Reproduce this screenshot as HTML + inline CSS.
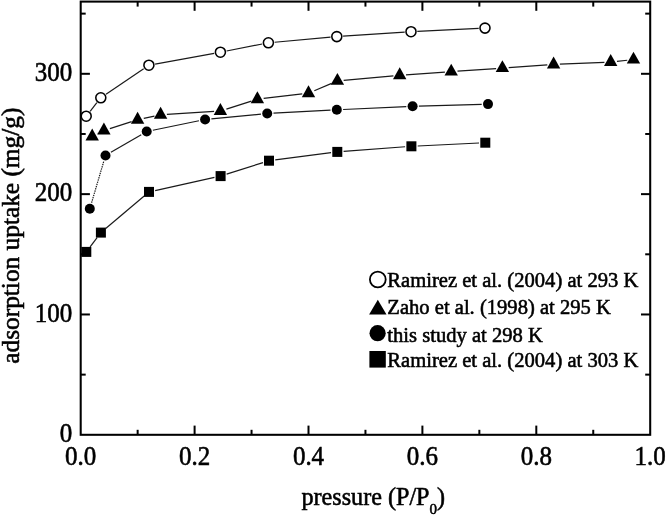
<!DOCTYPE html>
<html><head><meta charset="utf-8"><style>
html,body{margin:0;padding:0;background:#fff;}
body{width:666px;height:515px;overflow:hidden;font-family:"Liberation Serif",serif;}
svg{display:block;will-change:transform;}
</style></head><body>
<svg width="666" height="515" viewBox="0 0 666 515">
<g stroke="#1a1a1a" stroke-width="1.2" fill="none">
<line x1="90.12" y1="111.26" x2="96.88" y2="102.74"/><line x1="106.02" y1="94.27" x2="143.68" y2="68.73"/><line x1="155.10" y1="64.07" x2="214.20" y2="53.33"/><line x1="226.58" y1="50.99" x2="262.22" y2="44.01"/><line x1="274.67" y1="42.23" x2="330.53" y2="37.17"/><line x1="343.09" y1="36.18" x2="404.71" y2="32.12"/><line x1="417.29" y1="31.39" x2="478.71" y2="28.41"/>
<line x1="97.81" y1="133.63" x2="98.29" y2="133.37"/><line x1="109.90" y1="128.58" x2="131.60" y2="121.62"/><line x1="143.76" y1="118.39" x2="154.44" y2="116.11"/><line x1="166.89" y1="114.40" x2="214.11" y2="111.40"/><line x1="226.40" y1="109.09" x2="251.40" y2="101.11"/><line x1="263.66" y1="98.47" x2="302.24" y2="93.93"/><line x1="314.30" y1="90.73" x2="331.60" y2="83.37"/><line x1="343.67" y1="80.34" x2="393.43" y2="75.86"/><line x1="405.98" y1="74.85" x2="444.92" y2="72.05"/><line x1="457.49" y1="71.17" x2="496.11" y2="68.53"/><line x1="508.68" y1="67.66" x2="547.32" y2="64.94"/><line x1="559.89" y1="64.22" x2="604.41" y2="62.28"/><line x1="616.97" y1="61.34" x2="627.23" y2="60.26"/>
<line x1="90.10" y1="246.88" x2="97.10" y2="237.62"/><line x1="105.71" y1="228.53" x2="144.19" y2="195.97"/><line x1="155.15" y1="190.54" x2="214.45" y2="177.46"/><line x1="226.60" y1="174.19" x2="263.00" y2="162.61"/><line x1="275.25" y1="159.89" x2="331.05" y2="152.71"/><line x1="343.58" y1="151.43" x2="405.12" y2="146.77"/><line x1="417.69" y1="145.99" x2="479.01" y2="143.01"/>
<line x1="91.58" y1="202.76" x2="103.72" y2="161.54" stroke-dasharray="1.4 0.9"/><line x1="110.94" y1="152.33" x2="141.26" y2="134.67"/><line x1="152.87" y1="130.23" x2="198.93" y2="120.77"/><line x1="211.37" y1="118.89" x2="260.93" y2="114.11"/><line x1="273.49" y1="113.17" x2="330.51" y2="110.13"/><line x1="343.09" y1="109.51" x2="406.31" y2="106.59"/><line x1="418.90" y1="106.12" x2="481.70" y2="104.28"/>
</g>
<rect x="80.7" y="1.6" width="569.50" height="433.20" fill="none" stroke="#000" stroke-width="2.05"/>
<g stroke="#000" stroke-width="2"><line x1="137.65" y1="434.8" x2="137.65" y2="429.8"/><line x1="137.65" y1="1.6" x2="137.65" y2="6.6"/><line x1="194.60" y1="434.8" x2="194.60" y2="425.6"/><line x1="194.60" y1="1.6" x2="194.60" y2="10.799999999999999"/><line x1="251.55" y1="434.8" x2="251.55" y2="429.8"/><line x1="251.55" y1="1.6" x2="251.55" y2="6.6"/><line x1="308.50" y1="434.8" x2="308.50" y2="425.6"/><line x1="308.50" y1="1.6" x2="308.50" y2="10.799999999999999"/><line x1="365.45" y1="434.8" x2="365.45" y2="429.8"/><line x1="365.45" y1="1.6" x2="365.45" y2="6.6"/><line x1="422.40" y1="434.8" x2="422.40" y2="425.6"/><line x1="422.40" y1="1.6" x2="422.40" y2="10.799999999999999"/><line x1="479.35" y1="434.8" x2="479.35" y2="429.8"/><line x1="479.35" y1="1.6" x2="479.35" y2="6.6"/><line x1="536.30" y1="434.8" x2="536.30" y2="425.6"/><line x1="536.30" y1="1.6" x2="536.30" y2="10.799999999999999"/><line x1="593.25" y1="434.8" x2="593.25" y2="429.8"/><line x1="593.25" y1="1.6" x2="593.25" y2="6.6"/><line x1="80.7" y1="374.63" x2="85.7" y2="374.63"/><line x1="650.2" y1="374.63" x2="645.2" y2="374.63"/><line x1="80.7" y1="314.47" x2="89.9" y2="314.47"/><line x1="650.2" y1="314.47" x2="641.0" y2="314.47"/><line x1="80.7" y1="254.30" x2="85.7" y2="254.30"/><line x1="650.2" y1="254.30" x2="645.2" y2="254.30"/><line x1="80.7" y1="194.13" x2="89.9" y2="194.13"/><line x1="650.2" y1="194.13" x2="641.0" y2="194.13"/><line x1="80.7" y1="133.97" x2="85.7" y2="133.97"/><line x1="650.2" y1="133.97" x2="645.2" y2="133.97"/><line x1="80.7" y1="73.80" x2="89.9" y2="73.80"/><line x1="650.2" y1="73.80" x2="641.0" y2="73.80"/><line x1="80.7" y1="13.63" x2="85.7" y2="13.63"/><line x1="650.2" y1="13.63" x2="645.2" y2="13.63"/></g>
<circle cx="86.2" cy="116.2" r="5.0" fill="#fff" stroke="#000" stroke-width="1.55"/><circle cx="100.8" cy="97.8" r="5.0" fill="#fff" stroke="#000" stroke-width="1.55"/><circle cx="148.9" cy="65.2" r="5.0" fill="#fff" stroke="#000" stroke-width="1.55"/><circle cx="220.4" cy="52.2" r="5.0" fill="#fff" stroke="#000" stroke-width="1.55"/><circle cx="268.4" cy="42.8" r="5.0" fill="#fff" stroke="#000" stroke-width="1.55"/><circle cx="336.8" cy="36.6" r="5.0" fill="#fff" stroke="#000" stroke-width="1.55"/><circle cx="411" cy="31.7" r="5.0" fill="#fff" stroke="#000" stroke-width="1.55"/><circle cx="485" cy="28.1" r="5.0" fill="#fff" stroke="#000" stroke-width="1.55"/><path d="M92.20 128.57L98.90 140.47L85.50 140.47Z" fill="#000"/><path d="M103.90 122.57L110.60 134.47L97.20 134.47Z" fill="#000"/><path d="M137.60 111.77L144.30 123.67L130.90 123.67Z" fill="#000"/><path d="M160.60 106.87L167.30 118.77L153.90 118.77Z" fill="#000"/><path d="M220.40 103.07L227.10 114.97L213.70 114.97Z" fill="#000"/><path d="M257.40 91.27L264.10 103.17L250.70 103.17Z" fill="#000"/><path d="M308.50 85.27L315.20 97.17L301.80 97.17Z" fill="#000"/><path d="M337.40 72.97L344.10 84.87L330.70 84.87Z" fill="#000"/><path d="M399.70 67.37L406.40 79.27L393.00 79.27Z" fill="#000"/><path d="M451.20 63.67L457.90 75.57L444.50 75.57Z" fill="#000"/><path d="M502.40 60.17L509.10 72.07L495.70 72.07Z" fill="#000"/><path d="M553.60 56.57L560.30 68.47L546.90 68.47Z" fill="#000"/><path d="M610.70 54.07L617.40 65.97L604.00 65.97Z" fill="#000"/><path d="M633.50 51.67L640.20 63.57L626.80 63.57Z" fill="#000"/><circle cx="89.8" cy="208.8" r="5" fill="#000"/><circle cx="105.5" cy="155.5" r="5" fill="#000"/><circle cx="146.7" cy="131.5" r="5" fill="#000"/><circle cx="205.1" cy="119.5" r="5" fill="#000"/><circle cx="267.2" cy="113.5" r="5" fill="#000"/><circle cx="336.8" cy="109.8" r="5" fill="#000"/><circle cx="412.6" cy="106.3" r="5" fill="#000"/><circle cx="488" cy="104.1" r="5" fill="#000"/><rect x="81.30" y="246.90" width="10" height="10" fill="#000"/><rect x="95.90" y="227.60" width="10" height="10" fill="#000"/><rect x="144.00" y="186.90" width="10" height="10" fill="#000"/><rect x="215.60" y="171.10" width="10" height="10" fill="#000"/><rect x="264.00" y="155.70" width="10" height="10" fill="#000"/><rect x="332.30" y="146.90" width="10" height="10" fill="#000"/><rect x="406.40" y="141.30" width="10" height="10" fill="#000"/><rect x="480.30" y="137.70" width="10" height="10" fill="#000"/>
<text transform="translate(72.20,441.80) scale(1.0,1.09)" text-anchor="end" font-size="25" font-family="Liberation Serif, serif" stroke="#000" stroke-width="0.55">0</text><text transform="translate(72.20,322.27) scale(1.0,1.09)" text-anchor="end" font-size="25" font-family="Liberation Serif, serif" stroke="#000" stroke-width="0.55">100</text><text transform="translate(72.20,201.13) scale(1.0,1.09)" text-anchor="end" font-size="25" font-family="Liberation Serif, serif" stroke="#000" stroke-width="0.55">200</text><text transform="translate(72.20,80.80) scale(1.0,1.09)" text-anchor="end" font-size="25" font-family="Liberation Serif, serif" stroke="#000" stroke-width="0.55">300</text><text transform="translate(80.70,464.70) scale(1.0,1.09)" text-anchor="middle" font-size="25" font-family="Liberation Serif, serif" stroke="#000" stroke-width="0.55">0.0</text><text transform="translate(194.60,464.70) scale(1.0,1.09)" text-anchor="middle" font-size="25" font-family="Liberation Serif, serif" stroke="#000" stroke-width="0.55">0.2</text><text transform="translate(308.50,464.70) scale(1.0,1.09)" text-anchor="middle" font-size="25" font-family="Liberation Serif, serif" stroke="#000" stroke-width="0.55">0.4</text><text transform="translate(422.40,464.70) scale(1.0,1.09)" text-anchor="middle" font-size="25" font-family="Liberation Serif, serif" stroke="#000" stroke-width="0.55">0.6</text><text transform="translate(536.30,464.70) scale(1.0,1.09)" text-anchor="middle" font-size="25" font-family="Liberation Serif, serif" stroke="#000" stroke-width="0.55">0.8</text><text transform="translate(650.20,464.70) scale(1.0,1.09)" text-anchor="middle" font-size="25" font-family="Liberation Serif, serif" stroke="#000" stroke-width="0.55">1.0</text>
<text transform="translate(19.4,363.7) rotate(-90) scale(1.043,1)" font-size="24.3" font-family="Liberation Serif, serif" stroke="#000" stroke-width="0.55">adsorption uptake (mg/g)</text>
<text transform="translate(301.5,505.0) scale(1,1.035)" font-size="24.15" font-family="Liberation Serif, serif" stroke="#000" stroke-width="0.55">pressure (P/P<tspan font-size="15" dy="8.6">0</tspan><tspan dy="-8.6">)</tspan></text>
<text transform="translate(387.30,287.40) scale(1.0,1.035)" font-size="20.6" font-family="Liberation Serif, serif" stroke="#000" stroke-width="0.55">Ramirez et al. (2004) at 293 K</text>
<text transform="translate(387.30,314.40) scale(1.0,1.035)" font-size="20.6" font-family="Liberation Serif, serif" stroke="#000" stroke-width="0.55">Zaho et al. (1998) at 295 K</text>
<text transform="translate(387.30,341.50) scale(1.0,1.035)" font-size="20.6" font-family="Liberation Serif, serif" stroke="#000" stroke-width="0.55">this study at 298 K</text>
<text transform="translate(387.30,367.30) scale(1.0,1.035)" font-size="20.6" font-family="Liberation Serif, serif" stroke="#000" stroke-width="0.55">Ramirez et al. (2004) at 303 K</text>
<circle cx="377.8" cy="279.5" r="7.9" fill="none" stroke="#000" stroke-width="1.8"/>
<path d="M377.8 299.8L386.5 314.4L369.1 314.4Z" fill="#000"/>
<circle cx="377.6" cy="333.2" r="8.1" fill="#000"/>
<rect x="369.4" y="351" width="16.4" height="16.6" fill="#000"/>
</svg>
</body></html>
